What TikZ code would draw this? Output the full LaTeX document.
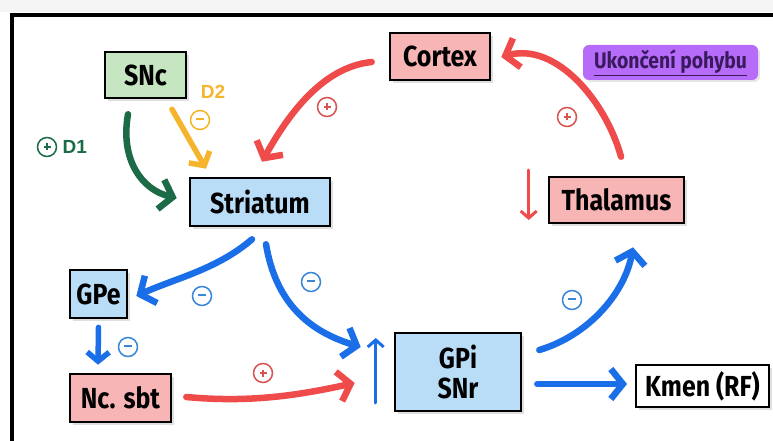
\documentclass[tikz,border=0pt]{standalone}
\usepackage{fontspec}
\setmainfont{Liberation Sans}
\newfontfamily\boxfont{Fira Sans}[FakeStretch=0.86]
\usetikzlibrary{arrows.meta,shadows}

\definecolor{fillgreen}{HTML}{C5E6C0}
\definecolor{fillpink}{HTML}{F7B5B5}
\definecolor{fillblue}{HTML}{B9DCF7}
\definecolor{fillpurple}{HTML}{B66CF8}
\definecolor{txtpurple}{HTML}{3A1A5E}
\definecolor{arrblue}{HTML}{1A6FE8}
\definecolor{arrred}{HTML}{EF4B4B}
\definecolor{arrgreen}{HTML}{1C6B47}
\definecolor{arrorange}{HTML}{F6B42C}
\definecolor{signblue}{HTML}{3A86D8}
\definecolor{signred}{HTML}{D9534F}

\tikzset{
  box/.style={draw=black, line width=2.6pt, inner sep=0pt, align=center,
    font=\boxfont\bfseries\fontsize{29}{30}\selectfont,
    drop shadow={opacity=0.25, shadow xshift=3pt, shadow yshift=-3pt}},
  bigarrow/.style={line width=6.5pt, line cap=round,
    -{Straight Barb[length=12pt,width=30pt,line width=6.5pt]}},
  smallarrow/.style={line width=3pt, line cap=round,
    -{Straight Barb[length=7pt,width=16pt,line width=3pt]}},
  sign/.style={circle, draw, line width=1.5pt, minimum size=19pt, inner sep=0pt},
}

\newcommand{\plusmark}{\tikz[baseline=-0.5ex]{\draw[line width=1.5pt] (-3.5pt,0)--(3.5pt,0) (0,-3.5pt)--(0,3.5pt);}}
\newcommand{\minusmark}{\tikz[baseline=-0.5ex]{\draw[line width=1.5pt] (-4pt,0)--(4pt,0);}}

\begin{document}
\begin{tikzpicture}[x=1pt, y=-1pt]
  \useasboundingbox (0,0) rectangle (773,441);
  \clip (0,0) rectangle (773,441);
  % page background and frame
  \fill[gray!8] (0,0) rectangle (773,12);
  \fill[white] (12,15) rectangle (790,460);
  \draw[line width=4pt] (12,15) rectangle (790,460);

  % boxes
  \node[box, fill=fillgreen, minimum width=81pt, minimum height=46pt] (snc) at (145.5,75) {SNc};
  \node[box, fill=fillpink, minimum width=100pt, minimum height=47pt] (cortex) at (440,56.5) {Cortex};
  \node[rounded corners=6pt, fill=fillpurple, minimum width=175pt, minimum height=35pt,
        inner sep=0pt, text=txtpurple, font=\boxfont\bfseries\fontsize{22.5}{24}\selectfont,
        drop shadow={opacity=0.2, shadow xshift=2pt, shadow yshift=-2pt}]
        (stop) at (670.5,62.5) {\underline{Ukončení pohybu}};
  \node[box, fill=fillblue, minimum width=140pt, minimum height=48pt] (striatum) at (260,202) {Striatum};
  \node[box, fill=fillpink, minimum width=135pt, minimum height=46pt] (thalamus) at (616.5,200) {Thalamus};
  \node[box, fill=fillblue, minimum width=57pt, minimum height=48pt] (gpe) at (98.5,294) {GPe};
  \node[box, fill=fillpink, minimum width=101pt, minimum height=48pt] (nc) at (120.5,398) {Nc. sbt};
  \node[box, fill=fillblue, minimum width=126pt, minimum height=78pt] (gpi) at (458,372) {GPi\\SNr};
  \node[box, fill=white, minimum width=133pt, minimum height=42pt, line width=2pt] (kmen) at (702.5,386) {Kmen (RF)};

  % dopaminergic input
  \draw[bigarrow, arrgreen]
    ([shift={(-17.5,15)}]snc.south) .. controls +(-8,45) and +(-35,-8) .. ([shift={(-12,-4)}]striatum.west);
  \draw[line width=5.5pt, line cap=round, arrorange,
        -{Straight Barb[length=10pt,width=24pt,line width=5.5pt]}]
    ([shift={(26.5,10)}]snc.south) -- ([shift={(-54,-8)}]striatum.north);

  % cortical loop
  \draw[bigarrow, arrred]
    ([shift={(-17,5.5)}]cortex.west) .. controls +(-50,5) and +(25,-45) .. ([shift={(2,-15)}]striatum.north);
  \draw[bigarrow, arrred]
    ([shift={(4.5,-19)}]thalamus.north) .. controls +(-15,-55) and +(55,-15) .. ([shift={(10,0.5)}]cortex.east);
  \draw[smallarrow, arrred]
    ([shift={(-19,-30)}]thalamus.west) -- ([shift={(-19,20)}]thalamus.west);

  % striatal outputs
  \draw[bigarrow, arrblue]
    ([shift={(-8,12)}]striatum.south) .. controls +(-35,30) and +(40,-18) .. ([shift={(8,2)}]gpe.east);
  \draw[bigarrow, arrblue]
    ([shift={(6,17)}]striatum.south) .. controls +(10,60) and +(-50,-15) .. ([shift={(-33,-25)}]gpi.west);
  \draw[line width=5.5pt, line cap=round, arrblue,
        -{Straight Barb[length=9pt,width=22pt,line width=5.5pt]}]
    ([shift={(0,8)}]gpe.south) -- ([shift={(-22.5,-8)}]nc.north);
  \draw[bigarrow, arrred]
    ([shift={(14,-1)}]nc.east) .. controls +(65,6) and +(-55,12) .. ([shift={(-39,11)}]gpi.west);
  \draw[smallarrow, arrblue]
    ([shift={(-18,31)}]gpi.west) -- ([shift={(-18,-34)}]gpi.west);

  % pallidal outputs
  \draw[bigarrow, arrblue]
    ([shift={(17,-22)}]gpi.east) .. controls +(50,-15) and +(-8,45) .. ([shift={(16.5,23)}]thalamus.south);
  \draw[bigarrow, arrblue]
    ([shift={(15,12)}]gpi.east) -- ([shift={(-8,-2)}]kmen.west);

  % signs and receptor labels
  \node[sign, draw=arrgreen, text=arrgreen] (pd1) at (47,147) {\plusmark};
  \node[font=\bfseries\fontsize{19}{21}\selectfont, text=arrgreen, anchor=west] (d1) at (59,147) {D1};
  \node[font=\bfseries\fontsize{19}{21}\selectfont, text=arrorange] (d2) at (213,92) {D2};
  \node[sign, draw=arrorange, text=arrorange] (md2) at (200,120) {\minusmark};
  \node[sign, draw=signred, text=signred] (pc) at (327,107) {\plusmark};
  \node[sign, draw=signred, text=signred] (pt) at (567,117) {\plusmark};
  \node[sign, draw=signblue, text=signblue] (mgpe) at (202,296) {\minusmark};
  \node[sign, draw=signblue, text=signblue] (mgpi) at (311,282) {\minusmark};
  \node[sign, draw=signblue, text=signblue] (mnc) at (128,347) {\minusmark};
  \node[sign, draw=signred, text=signred] (pnc) at (263,373) {\plusmark};
  \node[sign, draw=signblue, text=signblue] (mth) at (572,300) {\minusmark};
\end{tikzpicture}
\end{document}
